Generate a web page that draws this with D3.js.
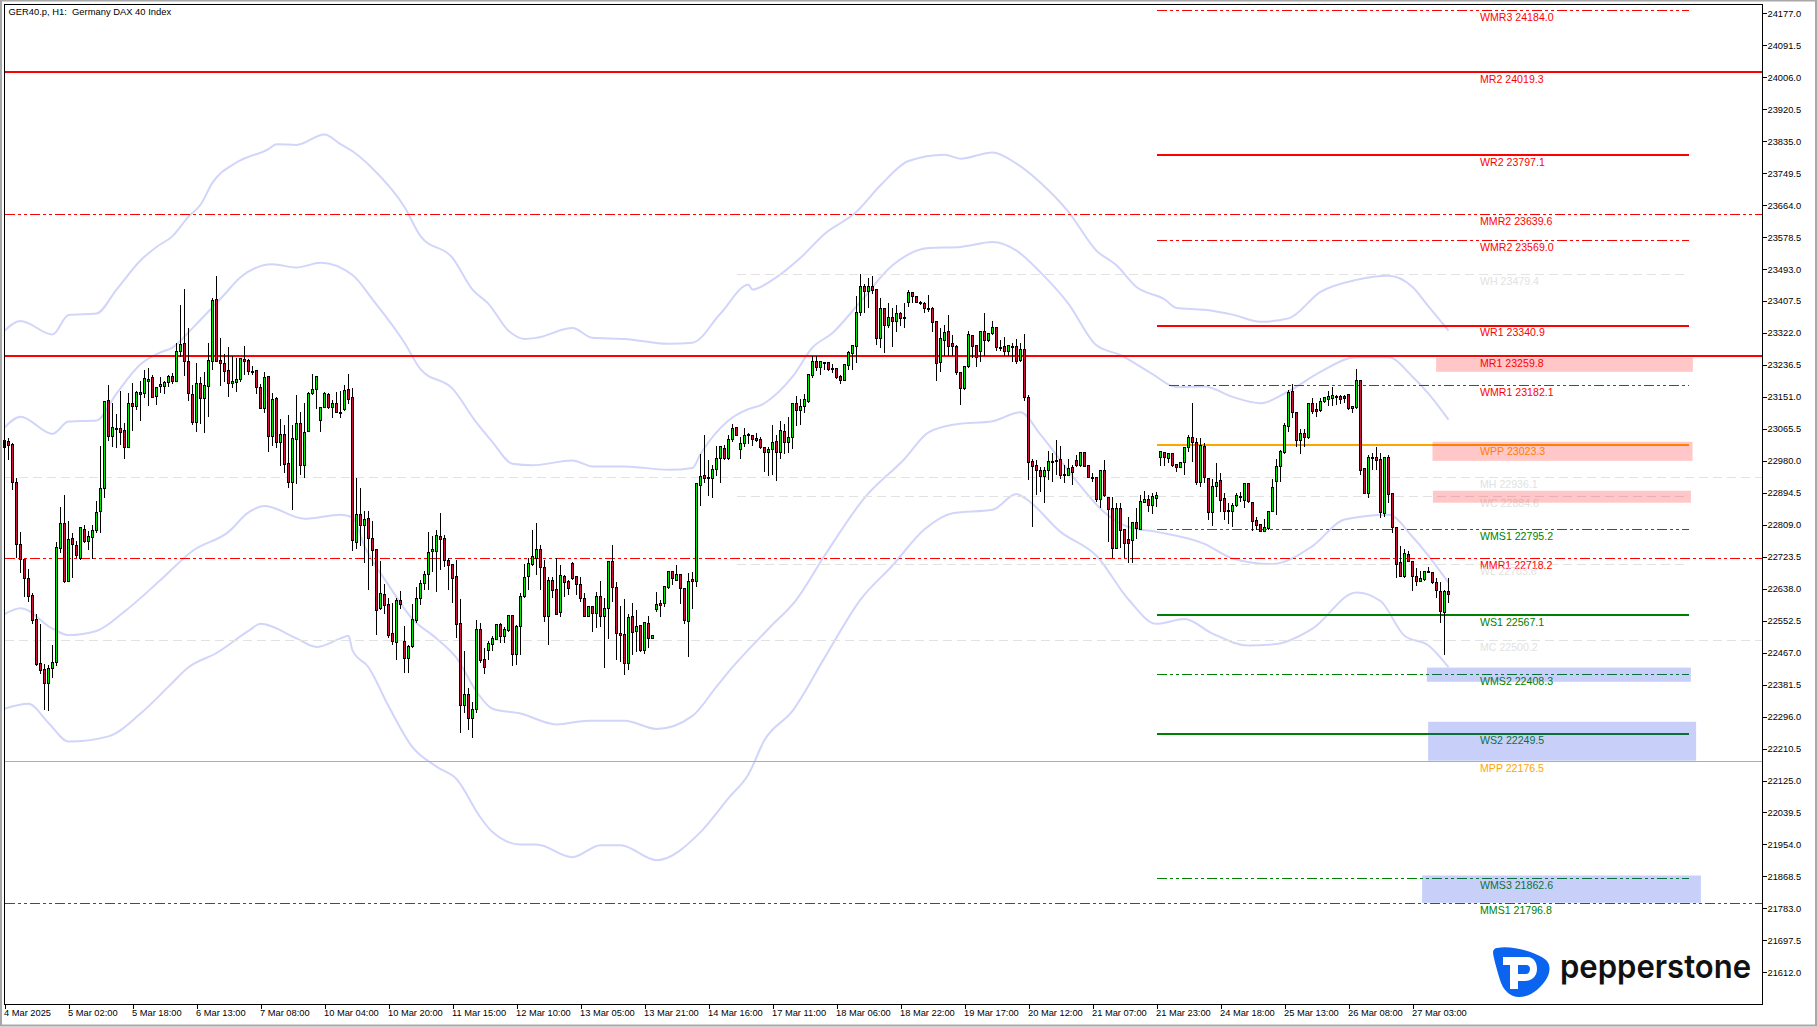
<!DOCTYPE html>
<html>
  <head>
    <meta charset="utf-8">
    <style>
      html, body { margin: 0; padding: 0; background: #fff; }
      svg { display: block; }
      text { font-family: "Liberation Sans", Arial, sans-serif; }
      .axis path { display: none; }
      .axis line { stroke: #000; shape-rendering: crispEdges; }
      .axis text { font-family: "Liberation Sans", Arial, sans-serif; font-size: 9.3px; fill: #000; }
    </style>
  </head>
  <body>
    <script src="https://d3js.org/d3.v7.min.js"></script>
    <script>
    //hourly candles, one entry per bar
    var opens = [
      23034,23031,23023,22921,22756,22715,22665,22619,22555,22437,22421,22384,22424,22440,22745,22812,22657,22772,22753,22718,
      22796,22764,22774,22793,22844,22905,23141,23044,23066,23066,23060,23015,23133,23125,23162,23159,23192,23202,23151,23178,
      23178,23189,23205,23192,23272,23293,23245,23157,23082,23186,23146,23178,23245,23411,23248,23240,23221,23186,23189,23197,
      23250,23248,23219,23221,23175,23119,23205,23044,23146,23028,23050,22972,22921,23036,23079,22967,23058,23159,23170,23087,
      23122,23157,23122,23133,23109,23117,23170,23149,22761,22836,22806,22825,22772,22742,22585,22622,22595,22518,22494,22606,
      22496,22451,22483,22552,22611,22651,22675,22737,22737,22777,22772,22713,22702,22670,22544,22325,22355,22290,22314,22528,
      22448,22472,22488,22502,22542,22510,22526,22566,22462,22536,22617,22670,22702,22718,22742,22694,22563,22659,22635,22574,
      22670,22657,22705,22670,22649,22611,22563,22590,22571,22617,22563,22585,22710,22641,22518,22515,22437,22563,22523,22539,
      22472,22544,22504,22582,22598,22598,22641,22683,22659,22675,22638,22550,22662,22657,22913,22940,22935,22932,22956,22986,
      23012,22986,23036,23069,23010,23026,23050,23047,23039,23036,23015,23002,23010,23031,23002,23058,23028,23042,23133,23114,
      23125,23138,23208,23245,23229,23242,23242,23226,23226,23205,23194,23234,23266,23285,23376,23446,23432,23446,23437,23307,
      23387,23341,23363,23352,23373,23363,23403,23430,23419,23403,23400,23387,23387,23352,23242,23301,23325,23293,23285,23216,
      23173,23232,23315,23288,23272,23325,23301,23320,23336,23282,23285,23272,23285,23285,23248,23277,23149,22978,22967,22954,
      22937,22954,22978,22981,22983,22943,22940,22962,22981,22967,23002,22967,22935,22935,22876,22954,22881,22852,22745,22852,
      22796,22769,22766,22814,22796,22868,22876,22860,22879,22988,23002,22986,23000,22970,22962,22975,23015,23042,23028,22921,
      23018,22932,22841,22911,22927,22879,22847,22844,22860,22884,22873,22919,22868,22820,22809,22790,22798,22844,22924,22964,
      23002,23071,23165,23109,23034,23052,23042,23133,23117,23114,23138,23143,23146,23151,23151,23151,23157,23119,23122,23194,
      22959,22892,22988,22988,22983,22839,22988,22892,22801,22708,22670,22729,22710,22670,22657,22662,22683,22681,22654,22630,
      22574,22630
    ];
    var highs = [
      23034,23042,23028,22935,22790,22718,22692,22627,22571,22544,22437,22435,22488,22764,22857,22889,22820,22788,22766,22801,
      22809,22793,22809,22873,23020,23138,23183,23135,23106,23167,23082,23162,23189,23167,23194,23224,23229,23210,23175,23205,
      23194,23210,23216,23296,23397,23440,23336,23183,23242,23205,23218,23296,23416,23475,23309,23266,23285,23261,23256,23256,
      23288,23253,23234,23224,23186,23218,23205,23162,23151,23093,23077,23103,23077,23157,23111,23135,23165,23213,23205,23122,
      23165,23162,23143,23165,23167,23183,23213,23175,22935,22908,22847,22847,22820,22742,22713,22651,22614,22601,22614,22633,
      22539,22488,22598,22643,22662,22686,22790,22780,22796,22841,22782,22721,22705,22716,22611,22472,22373,22336,22555,22547,
      22480,22499,22512,22544,22547,22536,22568,22568,22542,22627,22705,22721,22796,22814,22756,22716,22670,22670,22721,22702,
      22675,22662,22710,22673,22670,22627,22590,22590,22630,22659,22614,22710,22756,22657,22593,22611,22571,22601,22582,22542,
      22550,22566,22512,22630,22609,22643,22686,22686,22702,22678,22638,22681,22683,22919,22999,23050,22983,22970,23020,23020,
      23023,23050,23079,23069,23044,23069,23055,23050,23055,23044,23018,23018,23077,23050,23087,23079,23098,23133,23154,23146,
      23159,23210,23261,23261,23245,23245,23245,23240,23229,23210,23237,23274,23290,23422,23480,23454,23470,23475,23437,23416,
      23389,23403,23389,23397,23379,23403,23437,23432,23419,23408,23405,23424,23392,23352,23336,23344,23371,23317,23290,23218,
      23232,23328,23317,23290,23328,23376,23323,23355,23336,23304,23312,23290,23296,23306,23296,23320,23157,22986,22983,22964,
      22964,23007,23002,23036,23020,22970,22986,22970,22996,23002,23004,22967,22948,22935,22954,22983,22881,22884,22868,22868,
      22796,22831,22814,22855,22889,22900,22889,22895,22897,23004,23002,23002,23002,22970,22978,23018,23050,23135,23042,23042,
      23028,22932,22932,22975,22948,22895,22868,22868,22895,22897,22921,22921,22868,22831,22809,22825,22844,22932,22986,23010,
      23082,23170,23186,23109,23066,23066,23135,23149,23135,23149,23151,23167,23178,23157,23157,23157,23157,23127,23226,23194,
      22959,22996,23002,23018,23002,22991,22996,22892,22801,22753,22745,22740,22710,22694,22686,22683,22697,22683,22667,22657,
      22635,22667
    ];
    var lows = [
      22962,22983,22903,22721,22681,22617,22603,22544,22432,22411,22314,22312,22400,22432,22734,22654,22657,22667,22721,22715,
      22761,22742,22718,22788,22788,22881,23034,23018,23015,23023,22986,23015,23060,23117,23087,23149,23127,23149,23130,23162,
      23159,23178,23186,23192,23258,23208,23141,23077,23058,23079,23055,23098,23224,23245,23181,23192,23151,23175,23165,23192,
      23210,23210,23210,23159,23119,23109,23004,23020,23015,22967,22948,22908,22849,22919,22943,22935,23058,23157,23119,23058,
      23122,23119,23095,23109,23095,23114,23133,22740,22745,22753,22708,22635,22700,22515,22582,22571,22507,22488,22448,22585,
      22413,22413,22480,22547,22595,22635,22635,22683,22630,22689,22697,22635,22601,22507,22253,22306,22261,22240,22306,22440,
      22411,22448,22472,22502,22494,22494,22523,22432,22435,22462,22614,22635,22700,22675,22635,22550,22488,22614,22568,22563,
      22617,22622,22662,22622,22603,22563,22563,22523,22534,22536,22427,22504,22603,22448,22443,22408,22421,22462,22470,22470,
      22464,22480,22504,22576,22563,22590,22638,22649,22659,22598,22544,22454,22585,22643,22860,22921,22887,22881,22940,22921,
      22983,22983,23031,23047,22986,23018,23026,23020,23031,23012,22951,22940,22943,22927,22986,22999,23002,23012,23074,23077,
      23109,23135,23202,23221,23210,23224,23221,23216,23200,23186,23194,23224,23224,23242,23368,23376,23389,23427,23290,23282,
      23269,23336,23285,23325,23341,23336,23392,23403,23403,23397,23376,23379,23325,23194,23218,23261,23261,23261,23210,23130,
      23170,23229,23256,23232,23245,23261,23298,23317,23274,23274,23261,23261,23245,23240,23245,23141,22929,22804,22889,22897,
      22868,22929,22924,22943,22932,22921,22940,22916,22964,22964,22964,22935,22924,22871,22855,22884,22764,22721,22745,22748,
      22721,22708,22708,22772,22796,22868,22844,22839,22857,22967,22967,22975,22964,22951,22962,22943,23004,22978,22916,22911,
      22921,22822,22806,22884,22844,22822,22812,22804,22857,22871,22855,22868,22793,22796,22790,22790,22796,22844,22836,22924,
      22999,23058,23095,23018,22999,23018,23039,23106,23098,23111,23135,23127,23127,23130,23133,23135,23117,23109,23119,22943,
      22892,22881,22956,22956,22828,22831,22868,22788,22667,22670,22667,22710,22633,22646,22657,22659,22681,22651,22614,22547,
      22462,22601
    ];
    var closes = [
      23015,23020,22921,22756,22715,22665,22617,22552,22435,22419,22384,22424,22440,22748,22812,22657,22769,22756,22726,22801,
      22764,22777,22793,22841,22905,23138,23044,23069,23063,23055,23015,23133,23125,23162,23157,23200,23197,23149,23175,23183,
      23189,23205,23192,23272,23290,23245,23159,23082,23186,23146,23181,23248,23408,23245,23240,23218,23186,23192,23197,23253,
      23245,23218,23217,23175,23119,23202,23044,23143,23028,23050,22970,22921,23039,23079,22967,23055,23159,23170,23205,23122,
      23159,23122,23133,23109,23108,23167,23143,22766,22836,22806,22822,22772,22740,22579,22625,22593,22512,22496,22606,22595,
      22451,22483,22555,22611,22651,22675,22734,22742,22780,22769,22713,22700,22665,22542,22325,22355,22290,22314,22528,22445,
      22427,22491,22504,22542,22510,22528,22566,22462,22536,22617,22667,22705,22724,22742,22694,22563,22659,22633,22568,22673,
      22654,22638,22665,22649,22611,22563,22590,22571,22617,22563,22585,22710,22641,22518,22512,22437,22560,22520,22536,22472,
      22547,22504,22512,22595,22593,22643,22683,22665,22675,22638,22552,22657,22657,22919,22937,22932,22934,22956,22986,23018,
      22986,23036,23066,23047,23026,23047,23049,23036,23034,23015,23002,23010,23028,23002,23060,23028,23042,23133,23114,23125,
      23143,23210,23245,23229,23245,23241,23224,23225,23202,23194,23237,23269,23288,23376,23446,23432,23446,23435,23307,23387,
      23341,23363,23352,23373,23360,23361,23430,23419,23403,23402,23387,23386,23349,23240,23307,23323,23285,23285,23216,23173,
      23232,23317,23285,23256,23325,23301,23320,23336,23282,23281,23272,23288,23284,23245,23277,23149,22975,22964,22954,22937,
      22954,22978,22977,22980,22940,22942,22959,22948,22967,23002,22964,22935,22934,22876,22954,22887,22849,22745,22852,22793,
      22758,22758,22814,22798,22871,22876,22860,22884,22887,23004,22988,23000,22967,22962,22975,23015,23042,23028,22921,23020,
      22935,22841,22911,22921,22873,22844,22846,22860,22887,22883,22919,22871,22817,22806,22790,22801,22844,22908,22964,23004,
      23074,23162,23109,23034,23052,23042,23133,23111,23111,23138,23149,23151,23154,23150,23143,23146,23119,23125,23194,22954,
      22892,22988,22986,22980,22841,22988,22889,22801,22702,22670,22732,22710,22670,22657,22665,22683,22682,22654,22633,22576,
      22630,22622
    ];

    //the four lavender envelope lines, [bar, price] read at their turning points
    var outerUpper = [[0,23328],[4,23354],[12,23318],[16,23370],[23,23374],[28,23438],[34,23516],[38,23552],[42,23581],[46,23633],[49,23665],[52,23724],[58,23778],[66,23814],[68,23827],[73,23825],[80,23853],[84,23827],[87,23808],[92,23762],[100,23659],[104,23581],[112,23523],[117,23438],[121,23400],[126,23328],[130,23306],[133,23309],[142,23335],[147,23309],[155,23306],[166,23293],[172,23296],[179,23374],[186,23451],[187,23438],[192,23464],[199,23523],[205,23587],[213,23646],[219,23717],[226,23782],[235,23799],[239,23788],[247,23805],[253,23775],[259,23724],[266,23646],[273,23542],[278,23503],[283,23445],[290,23412],[293,23389],[300,23384],[307,23371],[314,23352],[321,23361],[329,23432],[338,23464],[346,23475],[352,23445],[356,23393],[361,23328]];
    var innerUpper = [[0,23069],[4,23098],[12,23052],[16,23085],[23,23088],[28,23160],[34,23238],[39,23270],[42,23283],[47,23335],[55,23425],[59,23471],[67,23506],[73,23497],[79,23510],[87,23477],[92,23412],[100,23296],[104,23225],[112,23173],[118,23082],[122,23030],[127,22972],[132,22968],[142,22981],[147,22965],[155,22965],[166,22956],[172,22961],[174,22998],[181,23088],[185,23114],[190,23134],[197,23205],[202,23283],[207,23322],[214,23406],[222,23503],[231,23549],[239,23552],[247,23565],[253,23542],[259,23484],[266,23400],[273,23289],[279,23263],[287,23212],[293,23177],[300,23179],[307,23151],[314,23134],[321,23166],[329,23218],[338,23257],[346,23257],[352,23205],[356,23160],[361,23090]];
    var innerLower = [[0,22570],[4,22586],[12,22531],[16,22514],[23,22525],[30,22577],[39,22661],[47,22739],[56,22790],[61,22842],[65,22859],[75,22825],[84,22836],[87,22829],[90,22752],[96,22648],[102,22557],[108,22505],[113,22453],[118,22363],[122,22317],[129,22304],[138,22275],[146,22285],[155,22285],[163,22263],[172,22298],[178,22376],[182,22428],[191,22531],[198,22609],[205,22726],[215,22881],[225,22985],[231,23056],[238,23078],[247,23086],[254,23110],[259,23050],[268,22926],[275,22842],[281,22803],[288,22790],[300,22758],[307,22719],[317,22704],[327,22752],[335,22823],[346,22836],[352,22777],[356,22726],[361,22654]];
    var outerLower = [[0,22317],[6,22330],[11,22279],[16,22229],[26,22243],[34,22304],[41,22376],[46,22428],[53,22466],[61,22525],[64,22544],[73,22505],[78,22482],[84,22505],[86,22512],[87,22473],[91,22428],[96,22324],[102,22214],[108,22162],[113,22129],[119,22026],[122,21987],[129,21954],[133,21954],[142,21920],[149,21952],[154,21952],[163,21912],[174,21987],[181,22078],[186,22142],[190,22233],[197,22311],[205,22453],[214,22609],[222,22700],[230,22797],[237,22840],[247,22849],[253,22891],[255,22881],[264,22790],[273,22726],[281,22609],[288,22544],[295,22557],[302,22518],[311,22486],[318,22490],[327,22531],[338,22628],[344,22605],[350,22512],[356,22486],[361,22428]];

    //pivot levels
    var monthlyNames = ["MR2","MMR2","MR1","MH","MMR1","MC","MPP","MMS1"];
    var monthlyValues = [24019.3,23639.6,23259.8,22936.1,22718.2,22500.2,22176.5,21796.8];
    var weeklyNames = ["WMR3","WR2","WMR2","WH","WR1","WMR1","WPP","WC","WMS1","WL","WS1","WMS2","WS2","WMS3"];
    var weeklyValues = [24184.0,23797.1,23569.0,23479.4,23340.9,23182.1,23023.3,22884.6,22795.2,22703.6,22567.1,22408.3,22249.5,21862.6];

    //shaded supply (red) and demand (blue) zones: top price, bottom price, first bar, last bar
    var redZones = [[23256,23218,357.9,422.1],[23031,22980,357,422],[22900,22868,357.1,421.6]];
    var blueZones = [[22427,22389,355.6,421.6],[22282,22178,355.9,422.9],[21871,21798,354.4,424.1]];

    //axes
    var priceTicks = [24177,24091.5,24006,23920.5,23835,23749.5,23664,23578.5,23493,23407.5,23322,23236.5,23151,23065.5,22980,22894.5,22809,22723.5,22638,22552.5,22467,22381.5,22296,22210.5,22125,22039.5,21954,21868.5,21783,21697.5,21612];
    var timeLabels = ["4 Mar 2025","5 Mar 02:00","5 Mar 18:00","6 Mar 13:00","7 Mar 08:00","10 Mar 04:00","10 Mar 20:00","11 Mar 15:00","12 Mar 10:00","13 Mar 05:00","13 Mar 21:00","14 Mar 16:00","17 Mar 11:00","18 Mar 06:00","18 Mar 22:00","19 Mar 17:00","20 Mar 12:00","21 Mar 07:00","21 Mar 23:00","24 Mar 18:00","25 Mar 13:00","26 Mar 08:00","27 Mar 03:00"];
    var timeTicks = timeLabels.map(function(d, i) { return i * 16; });

    //dimensions specs
    var width = 1817, height = 1027;
    var plotLeft = 4.5, plotRight = 1762.5, plotTop = 4.5, plotBottom = 1004.5;

    var svg = d3.select("body").append("svg").attr("width", width).attr("height", height);

    var x = d3.scaleLinear().domain([0, (plotRight - plotLeft) / 4]).range([plotLeft, plotRight]);
    var y = d3.scaleLinear().domain([24177, 21612]).range([13.3, 972.3]);
    var py = function(v) { return Math.round(y(v) - .5) + .5; };

    //window border
    svg.append("rect").attr("x", 1).attr("y", .5).attr("width", 1815).attr("height", 1025)
      .attr("fill", "none").attr("stroke", "#a8a8a8").attr("stroke-width", 2);

    //envelope lines
    var bandLine = d3.line().x(function(d) { return x(d[0]); }).y(function(d) { return y(d[1]); }).curve(d3.curveMonotoneX);
    svg.append("g").selectAll("path").data([outerUpper, innerUpper, innerLower, outerLower]).join("path")
      .attr("d", bandLine).attr("fill", "none").attr("stroke", "#d2d5fa").attr("stroke-width", 2);

    //level styling comes from the name
    function levelColor(name) {
      if (/(H|C|L)$/.test(name)) return "#e2e2e2";
      if (/PP$/.test(name)) return "#ffa500";
      if (/R\d$/.test(name)) return "#ff0000";
      return "#007f00";
    }
    function levelWidth(name) {
      if (name == "MPP") return 1;
      return /^(MR|WR|WS|WPP)/.test(name) ? 2 : 1;
    }
    function levelY(d) {
      //a 2px line needs a whole pixel centre or it blurs out to one pixel
      return levelWidth(d.name) == 2 ? Math.round(y(d.value)) : py(d.value);
    }
    function levelDash(name) {
      if (/(H|C|L)$/.test(name)) return "9,5";
      return /^(MM|WM)/.test(name) ? "10,3,3,3,3,3" : null;
    }
    function levelStart(name) {
      if (name[0] == "M") return 0;
      if (/(H|C|L)$/.test(name)) return 183;
      return name == "WMR1" ? 291 : 288;
    }
    function levelEnd(name) {
      return name[0] == "M" ? x.domain()[1] : 421;
    }

    var levels = monthlyNames.map(function(n, i) { return { name: n, value: monthlyValues[i] }; })
      .concat(weeklyNames.map(function(n, i) { return { name: n, value: weeklyValues[i] }; }));

    var levelG = svg.append("g");
    levelG.selectAll("line").data(levels).join("line")
      .attr("x1", function(d) { return x(levelStart(d.name)); })
      .attr("x2", function(d) { return x(levelEnd(d.name)); })
      .attr("y1", levelY)
      .attr("y2", levelY)
      .attr("stroke", function(d) { return levelColor(d.name); })
      .attr("stroke-width", function(d) { return levelWidth(d.name); })
      .attr("stroke-dasharray", function(d) { return levelDash(d.name); })
      .attr("shape-rendering", "crispEdges");
    levelG.selectAll("text").data(levels).join("text")
      .attr("x", 1480)
      .attr("y", function(d) { return y(d.value) + 10.5; })
      .attr("font-size", 10.6)
      .attr("fill", function(d) { return levelColor(d.name); })
      .text(function(d) { return d.name + " " + d.value.toFixed(1); });

    //candles
    var bars = d3.range(opens.length);
    var candleG = svg.append("g").attr("shape-rendering", "crispEdges");
    candleG.selectAll("line").data(bars).join("line")
      .attr("x1", function(i) { return x(i); }).attr("x2", function(i) { return x(i); })
      .attr("y1", function(i) { return Math.round(y(highs[i])); })
      .attr("y2", function(i) { return Math.round(y(lows[i])); })
      .attr("stroke", "#000");
    candleG.selectAll("rect").data(bars).join("rect")
      .attr("x", function(i) { return x(i) - 1; })
      .attr("width", 2)
      .attr("y", function(i) { return py(Math.max(opens[i], closes[i])); })
      .attr("height", function(i) { return Math.max(py(Math.min(opens[i], closes[i])) - py(Math.max(opens[i], closes[i])), 1); })
      .attr("fill", function(i) { return closes[i] > opens[i] ? "#00e600" : "#d0103c"; })
      .attr("stroke", "#000");

    //zones sit over the levels and their labels
    var zoneG = svg.append("g");
    function drawZones(zones, color, opacity) {
      zoneG.append("g").selectAll("rect").data(zones).join("rect")
        .attr("x", function(d) { return x(d[2]); })
        .attr("width", function(d) { return x(d[3]) - x(d[2]); })
        .attr("y", function(d) { return y(d[0]); })
        .attr("height", function(d) { return y(d[1]) - y(d[0]); })
        .attr("fill", color).attr("fill-opacity", opacity);
    }
    drawZones(redZones, "#ff0000", .22);
    drawZones(blueZones, "#2343eb", .25);

    //frame
    svg.append("rect").attr("x", plotLeft).attr("y", plotTop)
      .attr("width", plotRight - plotLeft).attr("height", plotBottom - plotTop)
      .attr("fill", "none").attr("stroke", "#000").attr("shape-rendering", "crispEdges");

    //axes
    svg.append("g").attr("class", "axis").attr("transform", "translate(" + plotRight + ",0)")
      .call(d3.axisRight(y).tickValues(priceTicks).tickFormat(d3.format(".1f")).tickSize(4).tickPadding(1));

    var timeAxis = svg.append("g").attr("class", "axis").attr("transform", "translate(0," + plotBottom + ")")
      .call(d3.axisBottom(x).tickValues(timeTicks).tickFormat(function(d, i) { return timeLabels[i]; }).tickSize(4).tickPadding(1));
    timeAxis.selectAll("text").attr("text-anchor", "start").attr("dx", -1);

    svg.append("text").attr("x", 8.5).attr("y", 15).attr("font-size", 9.4).attr("fill", "#000")
      .attr("xml:space", "preserve").style("white-space", "pre")
      .text("GER40.p, H1:  Germany DAX 40 Index");

    //logo
    var logo = svg.append("g");
    logo.append("path").attr("fill", "#0a64f0")
      .attr("d", "M1497,948 C1512,945 1536,952 1546,960 C1551,965 1550,972 1547,978 C1541,988 1531,997 1519,997 C1510,997 1503,990 1500,980 C1497,970 1493,956 1493,952 C1493,950 1495,948 1497,948 Z");
    logo.append("path").attr("fill", "#fff").attr("fill-rule", "evenodd")
      .attr("d", "M1503,957 L1527,957 C1535,957 1537,964 1537,969 C1537,977 1531,981 1525,981 L1518,981 L1518,989 L1510,989 L1510,965 L1503,965 Z M1518,965 L1526,965 C1529,965 1530,967 1530,969 C1530,972 1528,974 1526,974 L1518,974 Z");
    logo.append("text").attr("x", 1560).attr("y", 978)
      .style("font-family", "Inter, sans-serif").attr("font-weight", 600).attr("font-size", 33)
      .attr("textLength", 191).attr("lengthAdjust", "spacingAndGlyphs").attr("fill", "#111")
      .text("pepperstone");
    </script>
  </body>
</html>
